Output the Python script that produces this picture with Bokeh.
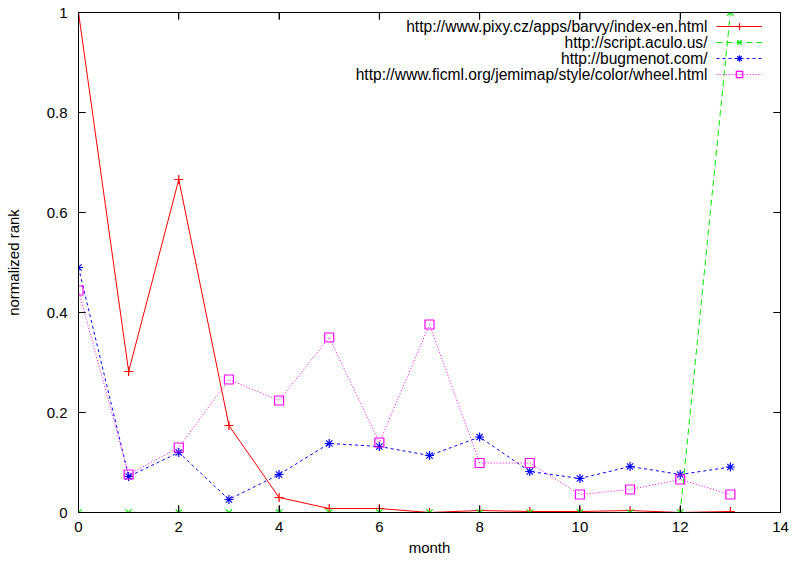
import math
from bokeh.plotting import figure
from bokeh.models import (Range1d, FixedTicker, LinearAxis, CustomJSTickFormatter,
                          Legend, LegendItem, Label)
from bokeh.embed import file_html
from bokeh.resources import INLINE

months = list(range(14))
pixy = [1.0, 0.282, 0.666, 0.174, 0.03, 0.008, 0.008, 0.0, 0.004, 0.002, 0.002, 0.004, 0.0, 0.002]
aculo = [0, 0, 0, 0, 0, 0, 0, 0, 0, 0, 0, 0, 0, 1.0]
bugmenot = [0.49, 0.072, 0.12, 0.026, 0.076, 0.138, 0.132, 0.114, 0.151, 0.082, 0.068, 0.092, 0.076, 0.091]
ficml = [0.444, 0.076, 0.13, 0.266, 0.224, 0.35, 0.14, 0.376, 0.099, 0.099, 0.036, 0.046, 0.066, 0.036]

names = ["http://www.pixy.cz/apps/barvy/index-en.html",
         "http://script.aculo.us/",
         "http://bugmenot.com/",
         "http://www.ficml.org/jemimap/style/color/wheel.html"]
x_ticks = [0, 2, 4, 6, 8, 10, 12, 14]
y_ticks = [0, 0.2, 0.4, 0.6, 0.8, 1]

FONT = "Liberation Sans"
FS = "15px"
LFS = "15.6px"
W, H = 792, 561
BL, BR, BT, BB = 78, 12, 12, 49
FW, FH = W - BL - BR, H - BT - BB
ROW = 16
MG = 6
XMIN, XMAX, YMIN, YMAX = 0, 14, 0, 1

p = figure(width=W, height=H, output_backend="svg", toolbar_location=None,
           x_range=Range1d(XMIN, XMAX), y_range=Range1d(YMIN, YMAX),
           x_axis_location=None, y_axis_location=None,
           min_border_left=BL, min_border_right=BR, min_border_top=BT, min_border_bottom=BB)
p.xgrid.visible = False
p.ygrid.visible = False
p.outline_line_color = "black"
p.background_fill_color = "white"
p.border_fill_color = "white"

yfmt = CustomJSTickFormatter(code="return String(Math.round(tick*10)/10);")
blank = CustomJSTickFormatter(code="return '';")

bottom = LinearAxis(ticker=FixedTicker(ticks=x_ticks), axis_label="month")
left = LinearAxis(ticker=FixedTicker(ticks=y_ticks), formatter=yfmt, axis_label="normalized rank")
top = LinearAxis(ticker=FixedTicker(ticks=x_ticks), formatter=blank, major_label_standoff=0)
right = LinearAxis(ticker=FixedTicker(ticks=y_ticks), formatter=blank, major_label_standoff=0)
p.add_layout(bottom, "below")
p.add_layout(left, "left")
p.add_layout(top, "above")
p.add_layout(right, "right")

for ax in [bottom, left, top, right]:
    ax.major_tick_in = 7
    ax.major_tick_out = 0
    ax.minor_tick_in = 0
    ax.minor_tick_out = 0
    ax.axis_line_color = "black"
    ax.major_tick_line_color = "black"
    ax.axis_label_text_font = FONT
    ax.axis_label_text_font_size = FS
    ax.axis_label_text_font_style = "normal"
    ax.axis_label_text_color = "black"
    ax.major_label_text_font = FONT
    ax.major_label_text_font_size = FS
    ax.major_label_text_color = "black"
bottom.major_label_standoff = 9
bottom.axis_label_standoff = 4
left.major_label_standoff = 11
left.axis_label_standoff = 22

# inward tick marks on all four sides (half of a dash marker lies inside the frame)
p.scatter(x_ticks, [YMIN] * len(x_ticks), marker="dash", size=14, angle=math.pi / 2,
          line_color="black", line_width=1)
p.scatter(x_ticks, [YMAX] * len(x_ticks), marker="dash", size=14, angle=math.pi / 2,
          line_color="black", line_width=1)
p.scatter([XMIN] * len(y_ticks), y_ticks, marker="dash", size=14,
          line_color="black", line_width=1)
p.scatter([XMAX] * len(y_ticks), y_ticks, marker="dash", size=14,
          line_color="black", line_width=1)

styles = [
    (pixy, "#ff0000", "solid", "cross"),
    (aculo, "#00ee00", "6 4", "x"),
    (bugmenot, "#0000ff", "3 3", "asterisk"),
    (ficml, "#ff00ff", "1 2", "square"),
]
items = []
for (vals, col, dash, mk), name in zip(styles, names):
    ln = p.line(months, vals, line_color=col, line_width=1, line_dash=dash)
    sc = p.scatter(months, vals, marker=mk, size=9, line_color=col, fill_color=None, line_width=1.2)
    items.append(LegendItem(label="\u00a0", renderers=[ln, sc]))

legend = Legend(items=items, location="top_right", border_line_color=None,
                background_fill_alpha=0, label_text_font=FONT, label_text_font_size="10px",
                spacing=0, label_height=ROW, glyph_height=ROW, glyph_width=46,
                label_width=12, label_standoff=0, padding=0, margin=MG)
p.add_layout(legend)

text_x = XMAX * (FW - 73) / FW
for i, name in enumerate(names):
    p.add_layout(Label(x=text_x, y=YMAX - (MG + ROW / 2 + ROW * i) / FH, text=name,
                       text_align="right", text_baseline="middle",
                       text_font=FONT, text_font_size=LFS, text_color="black"))

open("out.html", "w").write(file_html(p, INLINE))
